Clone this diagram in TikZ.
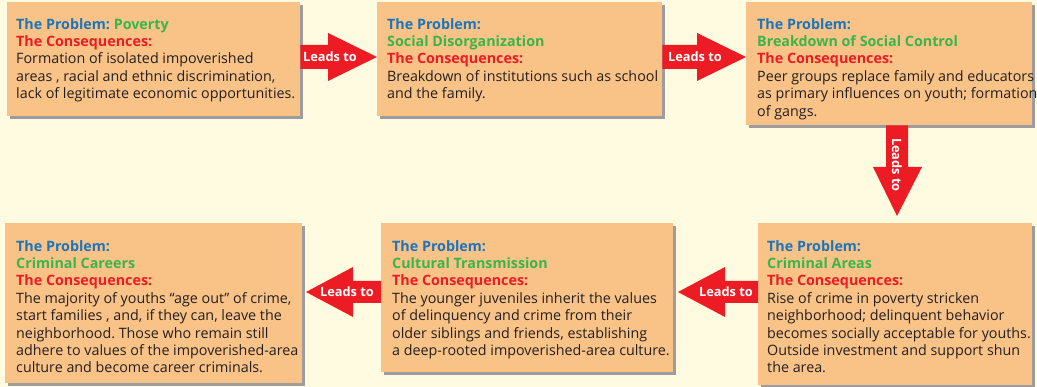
\documentclass[tikz,border=0pt]{standalone}
\usepackage{fontspec}
\setmainfont{Open Sans}
\usetikzlibrary{shadows,calc}
\frenchspacing
\definecolor{bg}{HTML}{FFFBE1}
\definecolor{boxfill}{HTML}{F9C387}
\definecolor{shadowgray}{HTML}{9D9D9F}
\definecolor{problue}{HTML}{1C75BC}
\definecolor{progreen}{HTML}{39B54A}
\definecolor{conred}{HTML}{ED1C24}
\definecolor{bodytext}{HTML}{231F20}
\definecolor{arrowred}{HTML}{ED1C24}
\newcommand\probhead{\rule{0pt}{10pt}\textcolor{problue}{\bfseries The Problem:}}
\newcommand\issuename[1]{\textcolor{progreen}{\bfseries #1}}
\newcommand\conshead{\textcolor{conred}{\bfseries The Consequences:}}
\begin{document}
\begin{tikzpicture}[x=1pt,y=-1pt,
  stage/.style={fill=boxfill, draw=none, inner sep=0, anchor=north west,
    drop shadow={shadow xshift=3pt, shadow yshift=-3pt, fill=shadowgray, opacity=1}},
  stagetext/.style={anchor=north west, align=left, inner sep=0,
    font=\fontsize{14.3}{17.4}\selectfont, text=bodytext},
  arrowbody/.style={fill=arrowred},
  leads/.style={text=white, font=\bfseries\fontsize{12.8}{15}\selectfont, inner sep=0}]
\fill[bg] (0,0) rectangle (1037,387);
\useasboundingbox (0,0) rectangle (1037,387);
% boxes
\node[stage, minimum width=293, minimum height=114] (b1) at (7,2) {};
\node[stage, minimum width=285, minimum height=114] (b2) at (377,2) {};
\node[stage, minimum width=286, minimum height=123] (b3) at (746,2) {};
\node[stage, minimum width=297, minimum height=160] (b4) at (5,223) {};
\node[stage, minimum width=292, minimum height=149] (b5) at (381,223) {};
\node[stage, minimum width=274, minimum height=162] (b6) at (758,223) {};
% texts (first baseline 26px below the box top)
\node[stagetext] (t1) at ($(b1.north west)+(9,16)$) {\probhead{} \issuename{Poverty}\\
  \conshead\\
  Formation of isolated impoverished\\
  areas , racial and ethnic discrimination,\\
  lack of legitimate economic opportunities.};
\node[stagetext] (t2) at ($(b2.north west)+(10,16)$) {\probhead\\
  \issuename{Social Disorganization}\\
  \conshead\\
  Breakdown of institutions such as school\\
  and the family.};
\node[stagetext] (t3) at ($(b3.north west)+(11,16)$) {\probhead\\
  \issuename{Breakdown of Social Control}\\
  \conshead\\
  Peer groups replace family and educators\\
  as primary influences on youth; formation\\
  of gangs.};
\node[stagetext] (t4) at ($(b4.north west)+(11,17)$) {\probhead\\
  \issuename{Criminal Careers}\\
  \conshead\\
  The majority of youths “age out” of crime,\\
  start families , and, if they can, leave the\\
  neighborhood. Those who remain still\\
  adhere to values of the impoverished-area\\
  culture and become career criminals.};
\node[stagetext] (t5) at ($(b5.north west)+(11,17)$) {\probhead\\
  \issuename{Cultural Transmission}\\
  \conshead\\
  The younger juveniles inherit the values\\
  of delinquency and crime from their\\
  older siblings and friends, establishing\\
  a deep-rooted impoverished-area culture.};
\node[stagetext] (t6) at ($(b6.north west)+(9,17)$) {\probhead\\
  \issuename{Criminal Areas}\\
  \conshead\\
  Rise of crime in poverty stricken\\
  neighborhood; delinquent behavior\\
  becomes socially acceptable for youths.\\
  Outside investment and support shun\\
  the area.};
% reference coordinates
\coordinate (ytop) at (0,57);
\coordinate (ybot) at (0,292);
\coordinate (xdown) at (897,0);
% arrow b1 -> b2
\fill[arrowbody] ($(b1.east |- ytop)+(0,-12)$) -- (328,45) -- (328,33)
  -- (b2.west |- ytop) -- (328,81) -- (328,69) -- ($(b1.east |- ytop)+(0,12)$) -- cycle;
\node[leads] (l1) at (330,57) {Leads to};
% arrow b2 -> b3
\fill[arrowbody] ($(b2.east |- ytop)+(0,-12)$) -- (697,45) -- (697,33)
  -- (b3.west |- ytop) -- (697,81) -- (697,69) -- ($(b2.east |- ytop)+(0,12)$) -- cycle;
\node[leads] (l2) at (695,57) {Leads to};
% arrow b3 -> b6
\coordinate (d0) at (b3.south -| xdown);
\coordinate (d1) at (897,216);
\fill[arrowbody] ($(d0)+(-11,0)$) -- ($(d0)+(11,0)$) -- (908,167) -- (922,167)
  -- (d1) -- (873,167) -- (886,167) -- cycle;
\node[leads, rotate=-90] (l3) at (897,165) {Leads to};
% arrow b6 -> b5
\coordinate (a1) at (678,292);
\fill[arrowbody] ($(b6.west |- ybot)+(0,-11)$) -- (725,281) -- (725,267)
  -- (a1) -- (725,317) -- (725,303) -- ($(b6.west |- ybot)+(0,11)$) -- cycle;
\node[leads] (l4) at (726,292) {Leads to};
% arrow b5 -> b4
\coordinate (a2) at (306,292);
\fill[arrowbody] ($(b5.west |- ybot)+(0,-11)$) -- (353,281) -- (353,267)
  -- (a2) -- (353,317) -- (353,303) -- ($(b5.west |- ybot)+(0,11)$) -- cycle;
\node[leads] (l5) at (347,292) {Leads to};
\end{tikzpicture}
\end{document}
